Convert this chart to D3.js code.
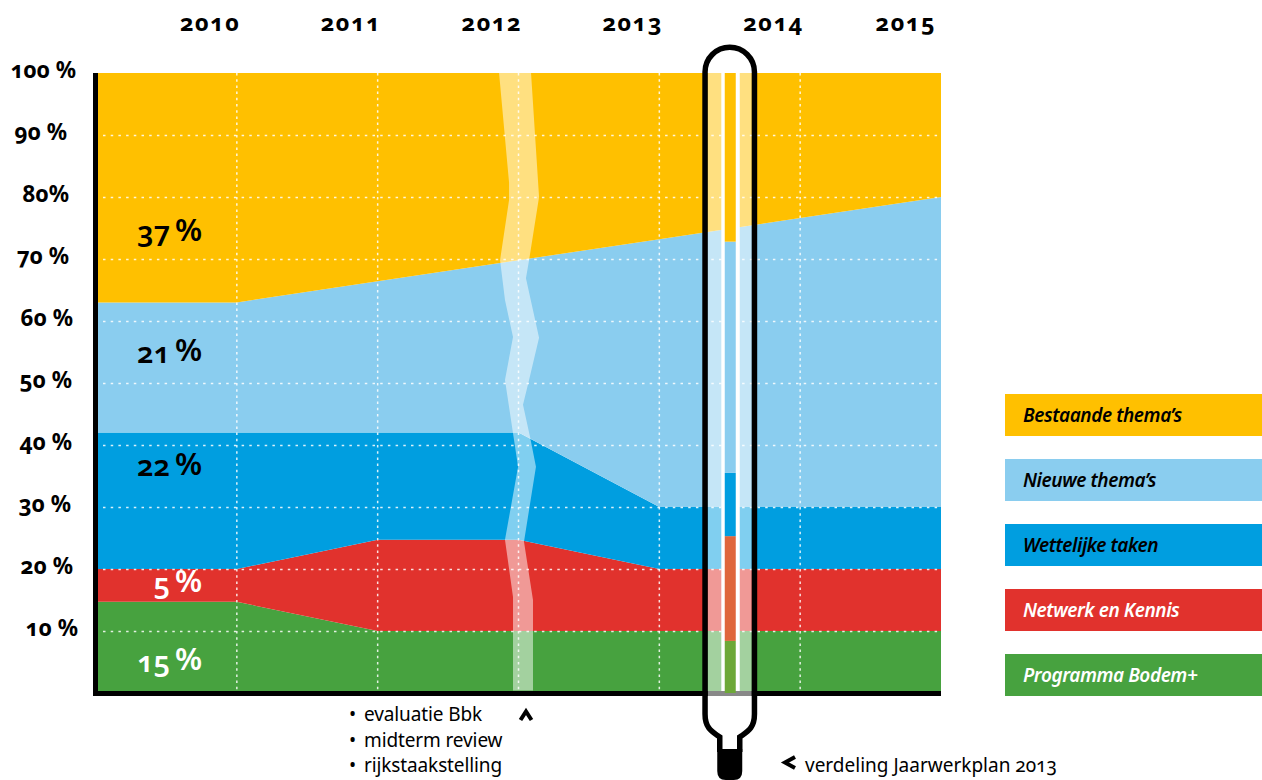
<!DOCTYPE html>
<html>
<head>
<meta charset="utf-8">
<script src="https://cdn.jsdelivr.net/npm/d3@7/dist/d3.min.js"></script>
<style>
  html, body { margin: 0; background: #fff; }
  svg { display: block; }
  text { font-family: 'Noto Sans', sans-serif; font-feature-settings: 'onum' 1; fill: #000; }
  .bold { font-weight: 700; }
  .grid { stroke: #fff; stroke-opacity: .85; fill: none; }
</style>
</head>
<body>
<svg id="chart" width="1262" height="780"></svg>
<script>
const years = ['2010', '2011', '2012', '2013', '2014', '2015']
const gridSteps = [0, 1, 2, 3, 4, 5, 6]
const percentLabels = ['10 %', '20 %', '30 %', '40 %', '50 %', '60 %', '70 %', '80%', '90 %', '100 %']
const percentTicks = [10, 20, 30, 40, 50, 60, 70, 80, 90, 100]

const seriesNames = ['Programma Bodem+', 'Netwerk en Kennis', 'Wettelijke taken', "Nieuwe thema's", "Bestaande thema's"]
const seriesColors = ['#47a23f', '#e1322d', '#009ee0', '#8acdef', '#ffc000']
const labelColors = ['#fff', '#fff', '#000', '#000', '#000']

const bodem = [14.7, 14.7, 10, 10, 10, 10, 10]
const netwerk = [5.3, 5.3, 14.7, 14.7, 10, 10, 10]
const wettelijk = [22, 22, 17.3, 17.3, 10, 10, 10]
const nieuw = [21, 21, 24.4, 27.8, 43.2, 46.6, 50]
const bestaand = [37, 37, 33.6, 30.2, 26.8, 23.4, 20]

const startLabels = ['15', '5', '22', '21', '37']
const startLabelValues = [3.4, 16, 35, 53.3, 72.7]

// the 2012 review band, [year step, percent]
const bandLeft = [[2.862, 100], [2.933, 82.3], [2.933, 79.5], [2.869, 69.8], [2.904, 63.4], [2.961, 57.4],
  [2.904, 50.5], [2.961, 41.9], [2.997, 36.5], [2.904, 24.7], [2.961, 15.5], [2.961, 0.4]]
const bandRight = [[3.089, 100], [3.146, 80], [3.075, 69.8], [3.053, 66.9], [3.146, 57.3], [3.075, 50.5],
  [3.032, 46.5], [3.082, 41.3], [3.124, 36.5], [3.039, 24.4], [3.103, 15], [3.103, 0.4]]

// Jaarwerkplan 2013 division, shown in the tube
const tubeValues = [8.4, 16.9, 10.2, 37.3, 27.2]
const tubeColors = ['#6da838', '#df663c', '#009ee0', '#8acdef', '#ffc000']
const tubeStep = 4.5

const reviewNotes = ['evaluatie Bbk', 'midterm review', 'rijkstaakstelling']

const svg = d3.select('#chart')
const x = d3.scaleLinear().domain([0, 6]).range([96, 941])
const y = d3.scaleLinear().domain([0, 100]).range([693, 73])

// stacked areas
const rows = gridSteps.map((i) => ({
  i, 0: bodem[i], 1: netwerk[i], 2: wettelijk[i], 3: nieuw[i], 4: bestaand[i]
}))
const stacked = d3.stack().keys([0, 1, 2, 3, 4])(rows)
const area = d3.area()
  .x((d) => x(d.data.i))
  .y0((d) => y(d[0]))
  .y1((d) => y(d[1]))

svg.append('g').selectAll('path')
  .data(stacked)
  .enter()
  .append('path')
  .attr('d', area)
  .attr('fill', (d, i) => seriesColors[i])

// dotted grid
svg.append('g').selectAll('line')
  .data(percentTicks.slice(0, 9))
  .enter()
  .append('line')
  .attr('class', 'grid')
  .attr('x1', x(0) + 7)
  .attr('x2', x(6))
  .attr('y1', (d) => y(d) + 0.5)
  .attr('y2', (d) => y(d) + 0.5)
  .attr('stroke-width', 1.5)
  .attr('stroke-dasharray', '2.5 5.2')

svg.append('g').selectAll('line')
  .data(gridSteps.slice(1, 6))
  .enter()
  .append('line')
  .attr('class', 'grid')
  .attr('x1', (d) => x(d))
  .attr('x2', (d) => x(d))
  .attr('y1', y(100))
  .attr('y2', y(0))
  .attr('stroke-width', 1.5)
  .attr('stroke-dasharray', '2.5 3.7')

// review band
const bandLine = d3.line().x((d) => x(d[0])).y((d) => y(d[1]))
svg.append('path')
  .attr('d', bandLine(bandLeft.concat(bandRight.slice().reverse())) + 'Z')
  .attr('fill', '#fff')
  .attr('fill-opacity', 0.5)

// axes
svg.append('rect').attr('x', 93).attr('y', y(100)).attr('width', 5).attr('height', y(0) - y(100) + 3).attr('fill', '#000')
svg.append('rect').attr('x', 93).attr('y', y(0) - 2).attr('width', x(6) - 93).attr('height', 5).attr('fill', '#000')

// the labels do not line up on the right in the original
const tickRight = [78, 73, 71, 72, 72, 73, 69, 69, 67, 76]
const yAxis = svg.append('g')
  .call(d3.axisLeft(y).tickValues(percentTicks).tickSize(0).tickPadding(0)
    .tickFormat((d, i) => percentLabels[i]))
yAxis.select('.domain').remove()
yAxis.selectAll('text')
  .attr('class', 'bold')
  .attr('font-size', 22.5)
  .attr('dy', 0)
  .attr('y', 4)
  .attr('x', (d, i) => tickRight[i])

svg.append('g').selectAll('text')
  .data(years)
  .enter()
  .append('text')
  .attr('class', 'bold')
  .attr('x', (d, i) => Math.min(x(i + 1) + 3.5, 936))
  .attr('y', 31)
  .attr('text-anchor', 'end')
  .attr('font-size', 23.5)
  .attr('letter-spacing', 1.4)
  .text((d) => d)

// tube: two faded strips and the 2013 division between them
const tubeX = x(tubeStep)
const strips = [[-22, 14], [9, 13]]
svg.append('rect')
  .attr('x', tubeX - 8.5).attr('y', y(100) - 1)
  .attr('width', 18.5).attr('height', y(0) - y(100) - 1)
  .attr('fill', '#fff')
svg.append('g').selectAll('rect')
  .data(strips)
  .enter()
  .append('rect')
  .attr('x', (d) => tubeX + d[0])
  .attr('y', y(100))
  .attr('width', (d) => d[1])
  .attr('height', y(0) - y(100) - 2)
  .attr('fill', '#fff')
  .attr('fill-opacity', 0.5)
svg.append('rect')
  .attr('x', tubeX - 22).attr('y', y(0) - 2)
  .attr('width', 44).attr('height', 5)
  .attr('fill', '#888')

let sum = 0
const tubeParts = tubeValues.map((v) => {
  const part = [sum, sum + v]
  sum += v
  return part
})
svg.append('g').selectAll('rect')
  .data(tubeParts)
  .enter()
  .append('rect')
  .attr('x', tubeX - 5)
  .attr('width', 11)
  .attr('y', (d) => y(d[1]))
  .attr('height', (d) => y(d[0]) - y(d[1]))
  .attr('fill', (d, i) => tubeColors[i])

svg.append('path')
  .attr('d', `M${tubeX - 10},752 V737 C${tubeX - 17},732 ${tubeX - 24.7},729 ${tubeX - 24.7},714
    V72 A24.7,24.7 0 0 1 ${tubeX + 24.7},72 V714
    C${tubeX + 24.7},729 ${tubeX + 17},732 ${tubeX + 10},737 V752`)
  .attr('fill', 'none')
  .attr('stroke', '#000')
  .attr('stroke-width', 5.5)
svg.append('path')
  .attr('d', `M${tubeX - 12.5},749 H${tubeX + 12.5} V771 Q${tubeX + 12.5},780 ${tubeX + 4},780 H${tubeX - 4} Q${tubeX - 12.5},780 ${tubeX - 12.5},771 Z`)
  .attr('fill', '#000')

// start percentages
const startText = svg.append('g').selectAll('text')
  .data(startLabels)
  .enter()
  .append('text')
  .attr('x', 202)
  .attr('y', (d, i) => y(startLabelValues[i]))
  .attr('text-anchor', 'end')
  .attr('font-size', 29)
  .attr('font-weight', 600)
  .style('fill', (d, i) => labelColors[i])
startText.append('tspan').text((d) => d + '\u2009')
startText.append('tspan')
  .attr('font-size', 31)
  .attr('dy', -1.5)
  .text('%')

// legend
const legendY = d3.scaleBand().domain(d3.range(5)).range([394, 719])
const legend = svg.append('g').selectAll('g')
  .data(seriesNames)
  .enter()
  .append('g')
  .attr('transform', (d, i) => `translate(1005,${legendY(4 - i)})`)
legend.append('rect')
  .attr('width', 257)
  .attr('height', 42)
  .attr('fill', (d, i) => seriesColors[i])
legend.append('text')
  .attr('x', 18)
  .attr('y', 27.5)
  .attr('font-size', 19)
  .attr('font-style', 'italic')
  .attr('font-weight', 600)
  .attr('letter-spacing', -0.43)
  .style('fill', (d, i) => labelColors[i])
  .text((d) => d.replace("'", '’'))

// notes under the axis
const notes = svg.append('g').selectAll('text')
  .data(reviewNotes)
  .enter()
  .append('text')
  .attr('y', (d, i) => 721 + i * 25.5)
  .attr('font-size', 19)
notes.append('tspan').attr('x', 349).text('•')
notes.append('tspan').attr('x', 364).attr('letter-spacing', -0.12).text((d) => d)

svg.append('text')
  .attr('x', 805)
  .attr('y', 772)
  .attr('font-size', 19)
  .text('verdeling Jaarwerkplan 2013')

// pointers
const pointer = (d) => svg.append('path')
  .attr('d', d)
  .attr('fill', 'none')
  .attr('stroke', '#000')
  .attr('stroke-width', 4)
pointer('M520.5,720 L526,711.5 L531.5,720')
pointer('M795,757 L785,762.5 L795,768')
</script>
</body>
</html>
